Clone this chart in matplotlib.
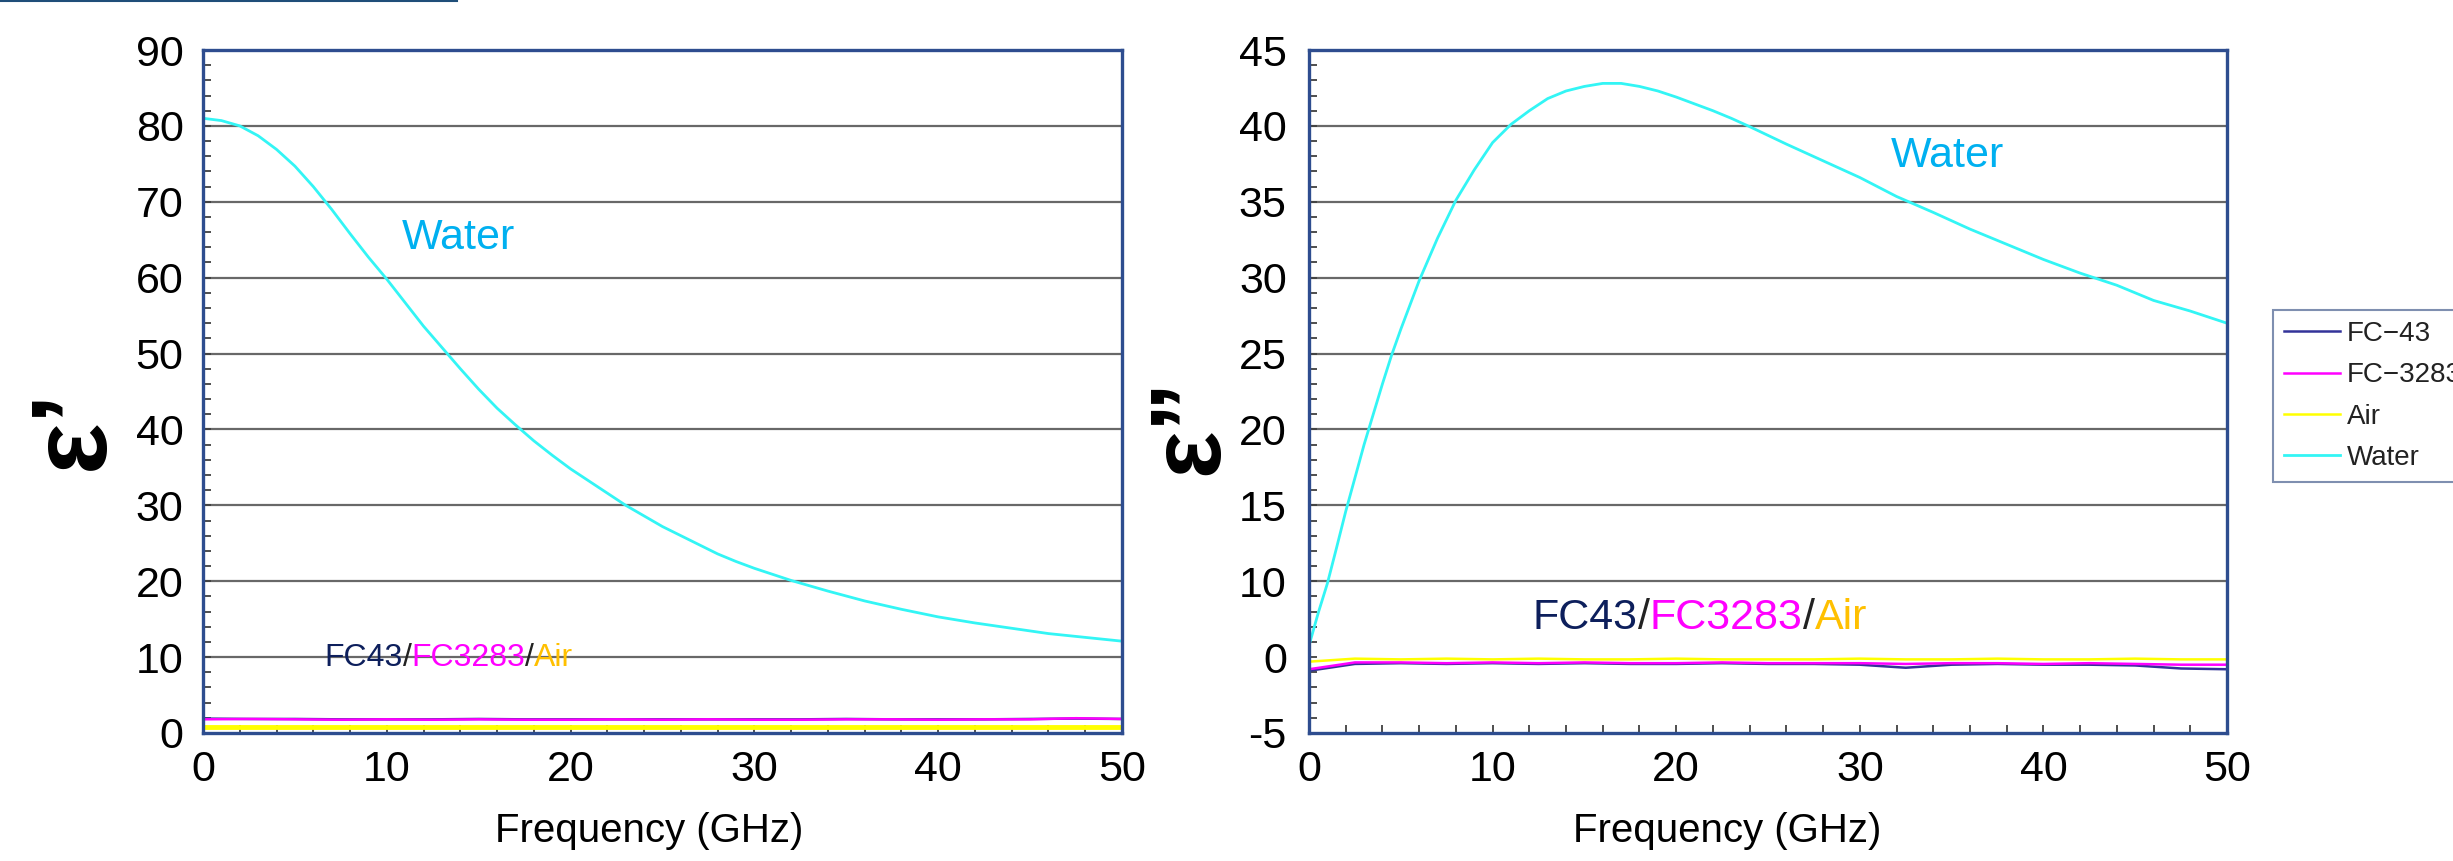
import numpy as np
import matplotlib
matplotlib.use("Agg")
import matplotlib.pyplot as plt
from matplotlib import transforms
from matplotlib.ticker import FixedLocator, MultipleLocator
from matplotlib.lines import Line2D

plt.rcParams["font.family"] = ["Liberation Sans", "DejaVu Sans"]
plt.rcParams["axes.unicode_minus"] = False

# ---- data ----
# eps' of water
water_re_freq = [0, 1, 2, 3, 4, 5, 6, 7, 8, 9, 10, 11, 12, 13, 14, 15, 16, 17, 18, 19, 20,
                 21, 22, 23, 24, 25, 26, 27, 28, 29, 30, 32, 34, 36, 38, 40, 42, 44, 46, 48, 50]
water_re = [81.0, 80.7, 80.0, 78.7, 76.9, 74.7, 72.0, 69.0, 65.8, 62.7, 59.8, 56.7, 53.6,
            50.8, 48.0, 45.3, 42.8, 40.6, 38.5, 36.6, 34.8, 33.2, 31.6, 30.0, 28.6, 27.2,
            26.0, 24.8, 23.6, 22.6, 21.7, 20.1, 18.7, 17.4, 16.3, 15.3, 14.5, 13.8, 13.1,
            12.6, 12.1]

# eps'' of water
water_im_freq = [0.0, 0.5, 1.0, 1.5, 2.0, 2.5, 3.0, 3.5, 4.0, 4.5, 5.0, 5.5, 6.0, 7, 8, 9,
                 10, 11, 12, 13, 14, 15, 16, 17, 18, 19, 20, 21, 22, 23, 24, 26, 28, 30,
                 32, 34, 36, 38, 40, 42, 44, 46, 48, 50]
water_im = [1.5, 5.8, 9.7, 12.2, 14.6, 16.8, 19.0, 21.0, 23.0, 24.9, 26.6, 28.2, 29.8,
            32.6, 35.1, 37.1, 38.9, 40.1, 41.0, 41.8, 42.3, 42.6, 42.8, 42.8, 42.6, 42.3,
            41.9, 41.45, 41.0, 40.5, 39.95, 38.8, 37.7, 36.6, 35.35, 34.3, 33.2, 32.2,
            31.2, 30.3, 29.5, 28.5, 27.8, 27.0]

# near-flat liquids / air
flat_freq = [0, 2.5, 5, 7.5, 10, 12.5, 15, 17.5, 20, 22.5, 25,
             27.5, 30, 32.5, 35, 37.5, 40, 42.5, 45, 47.5, 50]
fc43_re = [1.9, 1.85, 1.85, 1.8, 1.8, 1.8, 1.85, 1.8, 1.8, 1.8, 1.8,
           1.8, 1.8, 1.8, 1.85, 1.8, 1.8, 1.8, 1.85, 1.9, 1.85]
fc3283_re = [1.8, 1.85, 1.8, 1.75, 1.8, 1.75, 1.8, 1.75, 1.75, 1.8, 1.75,
             1.8, 1.75, 1.75, 1.8, 1.8, 1.75, 1.8, 1.8, 1.95, 1.85]
air_re = [0.8, 0.8, 0.8, 0.8, 0.8, 0.8, 0.8, 0.8, 0.8, 0.8, 0.8,
          0.8, 0.8, 0.8, 0.8, 0.8, 0.8, 0.8, 0.8, 0.8, 0.8]

fc43_im = [-0.9, -0.45, -0.4, -0.45, -0.4, -0.45, -0.4, -0.45, -0.45, -0.4, -0.45,
           -0.45, -0.5, -0.7, -0.5, -0.45, -0.5, -0.5, -0.55, -0.75, -0.8]
fc3283_im = [-0.8, -0.35, -0.35, -0.4, -0.35, -0.4, -0.35, -0.4, -0.4, -0.35, -0.4,
             -0.4, -0.4, -0.45, -0.4, -0.4, -0.45, -0.4, -0.45, -0.5, -0.5]
air_im = [-0.3, -0.1, -0.15, -0.1, -0.15, -0.1, -0.15, -0.15, -0.1, -0.15, -0.15,
          -0.15, -0.1, -0.15, -0.15, -0.1, -0.15, -0.15, -0.1, -0.15, -0.15]

left_yticks = [0, 10, 20, 30, 40, 50, 60, 70, 80, 90]
right_yticks = [-5, 0, 10, 15, 20, 25, 30, 35, 40, 45]
xticks = [0, 10, 20, 30, 40, 50]

# colours
C_FC43, C_FC3283, C_AIR, C_WATER = "#333399", "#ff00ff", "#ffff00", "#33f5f5"
FRAME = "#2e4d8f"
GRID = "#686868"


# right-hand axis is labelled -5, 0, 10, 15 ... at equal spacing
def fwd(v):
    v = np.asarray(v, dtype=float)
    return np.where(v < 0, v + 5, np.where(v < 10, (v + 10) / 2, v))


def inv(p):
    p = np.asarray(p, dtype=float)
    return np.where(p < 5, p - 5, np.where(p < 10, 2 * p - 10, p))


W, H = 2453, 861
fig = plt.figure(figsize=(W / 100, H / 100), dpi=100)
ax1 = fig.add_axes([203 / W, 1 - 733 / H, 919 / W, 683 / H])
ax2 = fig.add_axes([1309 / W, 1 - 733 / H, 918 / W, 683 / H])

ax2.set_yscale("function", functions=(fwd, inv))

ax1.plot(flat_freq, fc43_re, color=C_FC43, lw=1.8)
ax1.plot(flat_freq, fc3283_re, color=C_FC3283, lw=1.8)
ax1.plot(flat_freq, air_re, color=C_AIR, lw=3.5)
ax1.plot(water_re_freq, water_re, color=C_WATER, lw=2)

l1, = ax2.plot(flat_freq, fc43_im, color=C_FC43, lw=1.8, label="FC\u221243")
l2, = ax2.plot(flat_freq, fc3283_im, color=C_FC3283, lw=1.8, label="FC\u22123283")
l3, = ax2.plot(flat_freq, air_im, color=C_AIR, lw=1.8, label="Air")
l4, = ax2.plot(water_im_freq, water_im, color=C_WATER, lw=2, label="Water")

# limits, ticks
ax1.set_ylim(0, 90)
ax1.set_yticks(left_yticks)
ax1.yaxis.set_minor_locator(MultipleLocator(2))
ax2.set_ylim(-5, 45)
ax2.yaxis.set_major_locator(FixedLocator(right_yticks))
ax2.yaxis.set_minor_locator(FixedLocator(inv(np.arange(0, 46))))
ax2.set_yticklabels([str(v) for v in right_yticks])

for ax, ypad in ((ax1, 14), (ax2, 16)):
    ax.set_xlim(0, 50)
    ax.set_xticks(xticks)
    ax.xaxis.set_minor_locator(MultipleLocator(2))
    ax.tick_params(which="both", direction="in", length=6, width=1.3, color="#404040",
                   top=False, right=False)
    ax.tick_params(axis="y", which="major", labelsize=31, pad=ypad)
    ax.tick_params(axis="x", which="major", labelsize=31, pad=12)
    for sp in ax.spines.values():
        sp.set_color(FRAME)
        sp.set_linewidth(2.4)
        sp.set_zorder(6)
    ax.set_xlabel("Frequency (GHz)", fontsize=29)
    ax.xaxis.label.set_va("center")

ax1.xaxis.set_label_coords(0.485, -0.1435)
ax2.xaxis.set_label_coords(0.455, -0.1435)

# horizontal grid lines
for v in left_yticks[1:-1]:
    ax1.axhline(v, color=GRID, lw=1.6, zorder=0)
for v in right_yticks:
    if 10 <= v < 45:
        ax2.axhline(v, color=GRID, lw=1.6, zorder=0)

# y labels (epsilon prime / double prime)
fig.text(75 / W, 1 - 429 / H, "\u03b5\u2019", rotation=90, ha="center", va="center",
         fontsize=78, fontweight="bold")
fig.text(1191 / W, 1 - 426 / H, "\u03b5\u201d", rotation=90, ha="center", va="center",
         fontsize=72, fontweight="bold")

# annotations
WATER_TXT = "#00b0f0"
ax1.text(13.9, 65.2, "Water", color=WATER_TXT, fontsize=31, ha="center", va="center")
ax2.text(34.8, 38.0, "Water", color=WATER_TXT, fontsize=31, ha="center", va="center")

parts = [("FC43", "#0d1f5c"), ("/", "#222222"), ("FC3283", "#ff00ff"),
         ("/", "#222222"), ("Air", "#ffc000")]


def colored_text(ax, x, y, size):
    renderer = fig.canvas.get_renderer()
    tr = ax.transData
    for s, c in parts:
        t = ax.text(x, y, s, color=c, fontsize=size, ha="left", va="baseline",
                    transform=tr, zorder=7)
        w = t.get_window_extent(renderer).width
        tr = transforms.offset_copy(t.get_transform(), x=w, units="dots")


colored_text(ax1, 6.6, 8.8, 23)
colored_text(ax2, 12.2, 3.7, 31)

# legend at far right (runs off the edge as in the original)
leg = fig.legend(handles=[l1, l2, l3, l4], loc="upper left",
                 bbox_to_anchor=(2273 / W, 1 - 310 / H), bbox_transform=fig.transFigure,
                 frameon=True, fancybox=False, edgecolor="#7f8fb0", framealpha=1,
                 prop={"size": 20},
                 handlelength=2.0, handletextpad=0.25, labelspacing=0.55,
                 borderpad=0.4, borderaxespad=0)
leg.get_frame().set_linewidth(1.5)
for t in leg.get_texts():
    t.set_color("#222222")

# thin slide rule at the very top left
fig.add_artist(Line2D([0, 457 / W], [1 - 1 / H, 1 - 1 / H], color="#1f4e79", lw=1.5))

fig.savefig("out.png", dpi=100)
